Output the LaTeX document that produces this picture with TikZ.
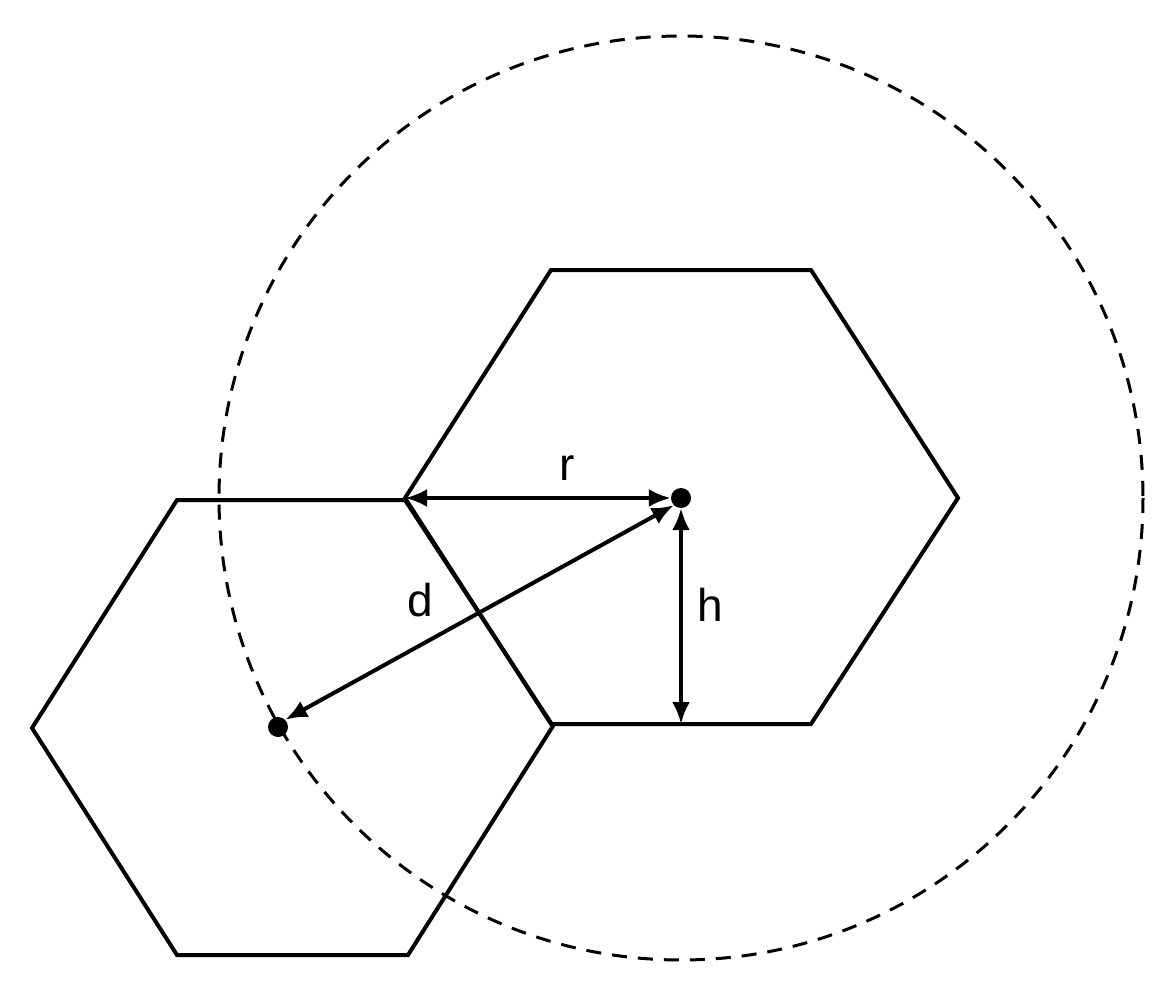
\documentclass[tikz,border=0pt]{standalone}
\usepackage{fontspec}
\setmainfont{Liberation Sans}
\usetikzlibrary{arrows.meta}
\begin{document}
\begin{tikzpicture}[x=1pt,y=-1pt,
  hexa/.style={line width=4pt,line join=miter},
  dim/.style={line width=4pt,{Latex[length=22pt,width=18pt]}-{Latex[length=22pt,width=18pt]}},
  lbl/.style={font=\fontsize{46}{46}\selectfont},
  dot/.style={circle,fill=black,inner sep=0pt,minimum size=20pt}]
\useasboundingbox (0,0) rectangle (1168,993);
\draw[line width=3pt,dash pattern=on 15pt off 11pt] (681,498) circle (462);
\draw[hexa] (551,270)--(811,270)--(958,498)--(811,724)--(551,724)--(405,498)--cycle;
\draw[hexa] (177,500)--(405,500)--(553,726)--(408,955)--(177,955)--(32,728)--cycle;
\node[dot] (c1) at (681,498) {};
\node[dot] (c2) at (278,727) {};
\coordinate (rl) at (405,498);
\coordinate (hb) at (681,724);
\draw[dim] (rl) -- (c1.west);
\draw[dim] (c1.south) -- (hb);
\draw[dim] (c1.south west) -- (c2.north east);
\node[lbl] (r) at (567,468) {r};
\node[lbl] (d) at (420,600) {d};
\node[lbl] (h) at (710,605) {h};
\end{tikzpicture}
\end{document}
